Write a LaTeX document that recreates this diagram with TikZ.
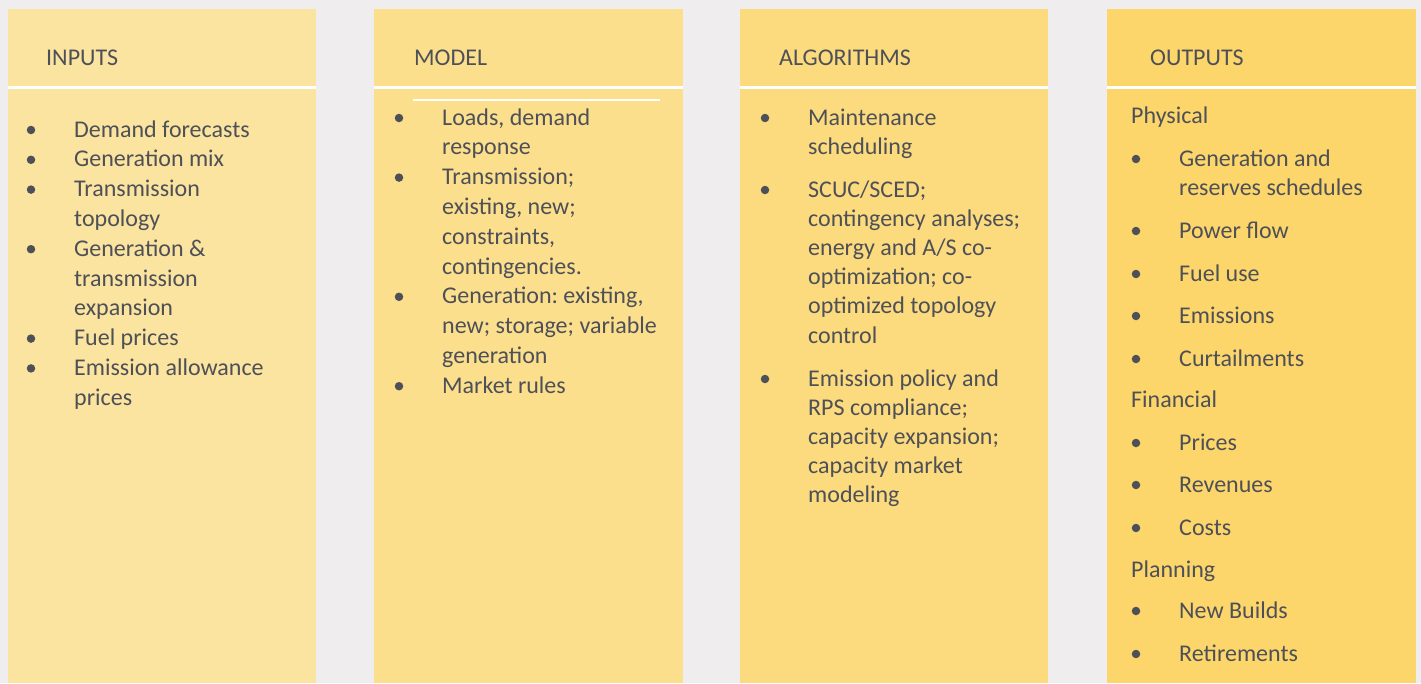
\documentclass[tikz,border=0pt]{standalone}
\usepackage{fontspec}
\setmainfont{Carlito}
\frenchspacing
\definecolor{pagebg}{RGB}{239,237,238}
\definecolor{colA}{RGB}{251,228,159}
\definecolor{colB}{RGB}{251,223,141}
\definecolor{colC}{RGB}{252,219,126}
\definecolor{colD}{RGB}{252,214,107}
\definecolor{ink}{RGB}{78,80,87}
\newcommand{\bodyfont}{\fontsize{24}{29.8}\selectfont}
\newcommand{\algofont}{\fontsize{24}{29.2}\selectfont}
\newcommand{\itemlines}[1]{\begin{tabular}[t]{@{}l@{}}#1\end{tabular}}
\tikzset{
  column/.style={fill=#1},
  rule/.style={draw=white, line width=2.5pt},
  txt/.style={anchor=base west, inner sep=0pt, text=ink, font=\bodyfont},
  dot/.style={circle, fill=ink, minimum size=8.5pt, inner sep=0pt}
}

\begin{document}
\begin{tikzpicture}[x=1pt, y=-1pt]
    \useasboundingbox (0,0) rectangle (1421,683);
    \fill [pagebg] (0,0) rectangle (1421,683);
    \fill [column=colA] (8,9) rectangle (316,683);
    \fill [column=colB] (374,9) rectangle (683,683);
    \fill [column=colC] (740,9) rectangle (1048,683);
    \fill [column=colD] (1107,9) rectangle (1416,683);
    \draw [rule] (8,87.5)--(316,87.5) ;
    \draw [rule] (374,87.5)--(683,87.5) ;
    \draw [rule] (740,87.5)--(1048,87.5) ;
    \draw [rule] (1107,87.5)--(1416,87.5) ;
    \draw [rule, line width=2pt] (413,99.5)--(660,99.5) ;

    \node [txt](hIn) at (46,65) {INPUTS};
    \node [txt](hMo) at (414,65) {MODEL};
    \node [txt](hAl) at (779,65) {ALGORITHMS};
    \node [txt](hOu) at (1150,65) {OUTPUTS};

    \node [txt](in1) at (74,137) {Demand forecasts};
    \node [txt](in2) at (74,166.8) {Generation mix};
    \node [txt](in3) at (74,196.6) {\itemlines{Transmission\\topology}};
    \node [txt](in4) at (74,256.2) {\itemlines{Generation \&\\transmission\\expansion}};
    \node [txt](in5) at (74,345.6) {Fuel prices};
    \node [txt](in6) at (74,375.4) {\itemlines{Emission allowance\\prices}};
    \foreach \y [count=\i] in {137,166.8,196.6,256.2,345.6,375.4}
        \node [dot](inB\i) at (31,\y-7) {};

    \node [txt](mo1) at (442,125) {\itemlines{Loads, demand\\response}};
    \node [txt](mo2) at (442,184.6) {\itemlines{Transmission;\\existing, new;\\constraints,\\contingencies.}};
    \node [txt](mo3) at (442,303.8) {\itemlines{Generation: existing,\\new; storage; variable\\generation}};
    \node [txt](mo4) at (442,393.2) {Market rules};
    \foreach \y [count=\i] in {125,184.6,303.8,393.2}
        \node [dot](moB\i) at (399,\y-7) {};

    \node [txt, font=\algofont](al1) at (808,125) {\itemlines{Maintenance\\scheduling}};
    \node [txt, font=\algofont](al2) at (808,197) {\itemlines{SCUC/SCED;\\contingency analyses;\\energy and A/S co-\\optimization; co-\\optimized topology\\control}};
    \node [txt, font=\algofont](al3) at (808,386) {\itemlines{Emission policy and\\RPS compliance;\\capacity expansion;\\capacity market\\modeling}};
    \foreach \y [count=\i] in {125,197,386}
        \node [dot](alB\i) at (765,\y-7) {};

    \node [txt](ouP) at (1131,123) {Physical};
    \node [txt](ou1) at (1179,166) {\itemlines{Generation and\\reserves schedules}};
    \node [txt](ou2) at (1179,238) {Power flow};
    \node [txt](ou3) at (1179,281) {Fuel use};
    \node [txt](ou4) at (1179,323) {Emissions};
    \node [txt](ou5) at (1179,366) {Curtailments};
    \node [txt](ouF) at (1131,407) {Financial};
    \node [txt](ou6) at (1179,450) {Prices};
    \node [txt](ou7) at (1179,492) {Revenues};
    \node [txt](ou8) at (1179,535) {Costs};
    \node [txt](ouN) at (1131,577) {Planning};
    \node [txt](ou9) at (1179,618) {New Builds};
    \node [txt](ou10) at (1179,661) {Retirements};
    \foreach \y [count=\i] in {166,238,281,323,366,450,492,535,618,661}
        \node [dot](ouB\i) at (1136,\y-7) {};
\end{tikzpicture}
\end{document}
